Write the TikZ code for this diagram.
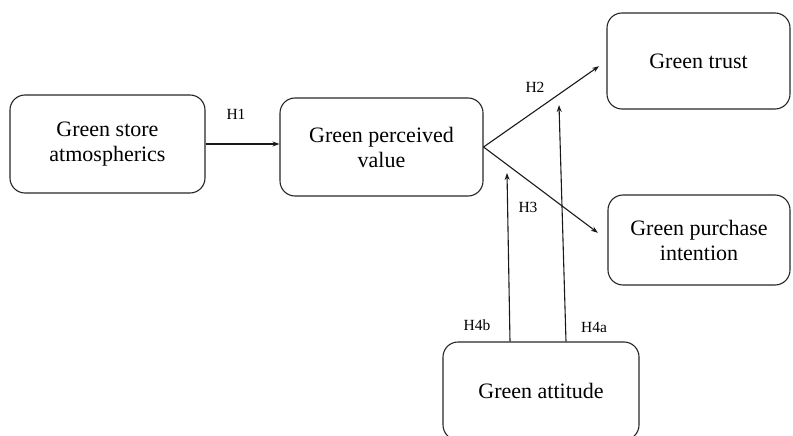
\documentclass[tikz,border=0pt]{standalone}
\usepackage{fontspec}
\setmainfont{Liberation Serif}
\newfontfamily\modelfont{Liberation Serif}
\usetikzlibrary{arrows.meta}
\begin{document}
\begin{tikzpicture}[x=1pt,y=-1pt,
  construct/.style={draw=black!85, line width=1.1pt, rounded corners=15pt,
    align=center, font=\modelfont\fontsize{22}{25}\selectfont, inner sep=0pt},
  path/.style={draw=black!90, line width=1.1pt,
    -{Stealth[length=7pt,width=5pt]}},
  hyp/.style={font=\modelfont\fontsize{15.5}{18}\selectfont, inner sep=0pt}]
  \useasboundingbox (0,0) rectangle (793,436);
  \clip (0,0) rectangle (793,436);

  % constructs
  \node[construct, minimum width=195pt, minimum height=98pt] (store) at (107.5,144) {Green store\\atmospherics};
  \node[construct, minimum width=203pt, minimum height=98pt] (value) at (381.5,147) {Green perceived\\value};
  \node[construct, minimum width=183pt, minimum height=96pt] (trust) at (698.5,61) {Green trust};
  \node[construct, minimum width=182pt, minimum height=90pt] (intent) at (699,240) {Green purchase\\intention};
  \node[construct, minimum width=196pt, minimum height=98pt] (att) at (541,391) {Green attitude};

  % moderation targets on the structural paths
  \coordinate (h4bend) at (507,173);
  \coordinate (h4aend) at (559,105);

  % hypothesised paths
  \draw[path] (store.east) -- (store.east -| value.west);
  \draw[path, shorten >=9pt] (value.east) -- (trust.west);
  \draw[path, shorten >=12pt] (value.east) -- (intent.west);
  \draw[path] ([xshift=-31pt]att.north) -- (h4bend);
  \draw[path] ([xshift=25pt]att.north) -- (h4aend);

  % hypothesis labels
  \node[hyp] (l1) at (236,114) {H1};
  \node[hyp] (l2) at (535,87) {H2};
  \node[hyp] (l3) at (528,207) {H3};
  \node[hyp] (l4b) at (477,325) {H4b};
  \node[hyp] (l4a) at (594,327) {H4a};
\end{tikzpicture}
\end{document}
